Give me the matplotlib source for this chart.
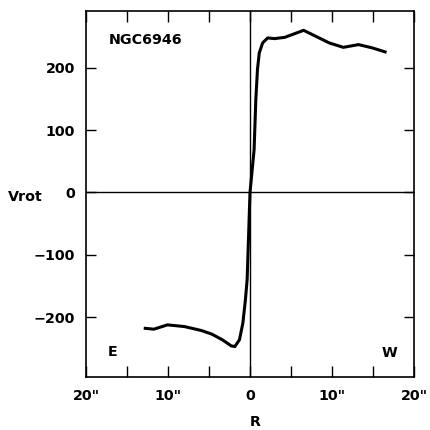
import matplotlib
matplotlib.use("Agg")
import matplotlib.pyplot as plt

# Rotation curve of NGC6946 (R in arcsec, Vrot in km/s)
r_vals = [-12.96, -11.72, -10.07, -8.0, -5.91, -4.65, -3.36, -2.29, -1.85, -1.29,
          -0.87, -0.56, -0.35, 0.0, 0.5, 0.71, 0.91, 1.13, 1.54, 2.16, 3.0, 4.25,
          6.54, 9.66, 11.38, 13.24, 14.92, 16.65]
v_vals = [-217.7, -219.3, -212.4, -215.1, -221.5, -227.3, -236.4, -246.1, -247.2, -236.4,
          -209.6, -172.2, -140.1, 0.0, 68.5, 148.8, 197.0, 223.8, 239.8, 247.8, 246.7, 248.8,
          260.0, 239.8, 232.7, 237.1, 231.8, 224.7]

x_ticks = [-20, -15, -10, -5, 0, 5, 10, 15, 20]
x_tick_labels = ['20"', '', '10"', '', '0', '', '10"', '', '20"']
y_ticks = [-200, -100, 0, 100, 200]
y_tick_labels = ['\u2212200', '\u2212100', '0', '100', '200']

plt.rcParams['font.family'] = ['DejaVu Sans']
plt.rcParams['font.weight'] = 'bold'

FS = 10.3

fig = plt.figure(figsize=(4.3, 4.3), dpi=100)
ax = fig.add_axes([86/430, 1 - 377/430, 328/430, 366/430])

ax.axhline(0, color='black', lw=1.0, zorder=1)
ax.axvline(0, color='black', lw=1.0, zorder=1)
ax.plot(r_vals, v_vals, color='black', lw=2.2, solid_joinstyle='round',
        solid_capstyle='butt', zorder=3)

ax.set_xlim(-20, 20)
ax.set_ylim(-296, 291)

ax.set_xticks(x_ticks)
ax.set_xticklabels(x_tick_labels, fontsize=FS, fontweight='bold')
ax.set_yticks(y_ticks)
ax.set_yticklabels(y_tick_labels, fontsize=FS, fontweight='bold')
ax.tick_params(axis='x', direction='in', length=8, width=1.0, top=True, bottom=True, pad=9)
ax.tick_params(axis='y', direction='in', length=7.5, width=1.0, left=True, right=True, pad=8)

for sp in ax.spines.values():
    sp.set_linewidth(1.2)

ax.text(0.070, 0.921, 'NGC6946', transform=ax.transAxes, fontsize=FS,
        fontweight='bold', ha='left', va='center')
ax.text(0.082, 0.068, 'E', transform=ax.transAxes, fontsize=FS,
        fontweight='bold', ha='center', va='center')
ax.text(0.926, 0.066, 'W', transform=ax.transAxes, fontsize=FS,
        fontweight='bold', ha='center', va='center')

fig.text(25/430, 1 - 197/430, 'Vrot', fontsize=FS, fontweight='bold',
         ha='center', va='center')
fig.text(255.5/430, 1 - 422.5/430, 'R', fontsize=FS, fontweight='bold',
         ha='center', va='center')

fig.savefig('out.png', dpi=100, facecolor='white')
